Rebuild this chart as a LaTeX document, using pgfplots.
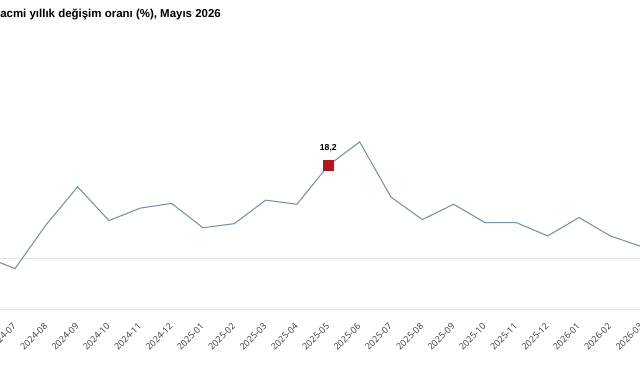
\documentclass[border=0pt]{standalone}
\usepackage{pgfplots}
\pgfplotsset{compat=1.18}
\usepackage{fontspec}
\setmainfont{Liberation Sans}
\newfontfamily\tickfont{Open Sans}
\definecolor{linec}{RGB}{118,146,168}
\definecolor{markc}{RGB}{180,20,30}
\definecolor{gridc}{RGB}{228,228,228}
\definecolor{tickc}{RGB}{55,55,55}
\begin{document}
\begin{tikzpicture}
\path[use as bounding box, clip] (0,0) rectangle (480pt,281.25pt);
\node[anchor=base west, inner sep=0pt, font=\fontsize{8.6pt}{10pt}\selectfont\bfseries] at (0pt,267.75pt) {acmi yıllık değişim oranı (\%), Mayıs 2026};
\begin{axis}[
  at={(-12.25pt,49.125pt)}, anchor=south west,
  scale only axis, width=517pt, height=153.3pt,
  xmin=-1, xmax=21, ymin=-10, ymax=30,
  axis line style={draw=none},
  ytick={-10,0}, yticklabels={}, ymajorgrids,
  grid style={gridc, line width=0.9pt},
  major tick length=0pt,
  xtick={-1,...,20},
  xticklabels={2024-06,2024-07,2024-08,2024-09,2024-10,2024-11,2024-12,2025-01,2025-02,2025-03,2025-04,2025-05,2025-06,2025-07,2025-08,2025-09,2025-10,2025-11,2025-12,2026-01,2026-02,2026-03},
  xticklabel style={xshift=2pt, yshift=-9pt, rotate=45, anchor=east, font=\tickfont\fontsize{6.7pt}{7pt}\selectfont, text=tickc},
  clip=true,
]
\addplot[linec, line width=0.8pt, mark=none] coordinates {
(-1,0.43) (0,-2.0) (1,6.65) (2,14.0) (3,7.4) (4,9.85) (5,10.75) (6,6.0) (7,6.8) (8,11.4) (9,10.6) (10,18.2) (11,22.8) (12,12.0) (13,7.6) (14,10.6) (15,7.0) (16,7.0) (17,4.4) (18,8.0) (19,4.4) (20,2.3)
};
\addplot[only marks, mark=square*, mark size=3.6pt, mark options={fill=markc, draw=markc},
  nodes near coords={\textbf{18,2}}, every node near coord/.append style={font=\fontsize{6.5pt}{7pt}\selectfont, yshift=7pt}] coordinates {(10,18.2)};
\end{axis}
\end{tikzpicture}
\end{document}
